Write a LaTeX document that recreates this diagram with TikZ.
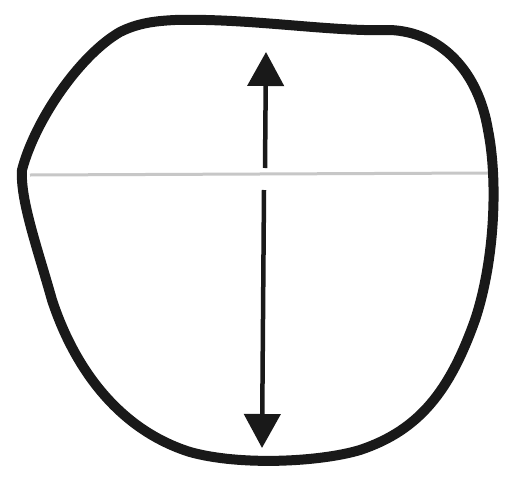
\documentclass[tikz,border=0pt]{standalone}
\usetikzlibrary{arrows.meta}
\begin{document}
\begin{tikzpicture}[x=1pt,y=-1pt,
  outline/.style={line width=10pt,line join=round,black!90},
  midline/.style={line width=3pt,black!22},
  dimarrow/.style={line width=4.5pt,black!90,-{Triangle[length=34pt,width=36pt]}}]
\useasboundingbox (0,0) rectangle (520,485);
\fill[white] (0,0) rectangle (520,485);
\draw[midline] (30,175) -- (488,173);
\draw[outline] (175,20) .. controls (250,18) and (330,32) .. (390,30)
  .. controls (440,32) and (478,70) .. (488,130)
  .. controls (498,180) and (495,260) .. (475,320)
  .. controls (450,390) and (420,430) .. (360,450)
  .. controls (320,462) and (240,466) .. (190,452)
  .. controls (120,430) and (75,370) .. (52,300)
  .. controls (38,250) and (20,200) .. (22,170)
  .. controls (35,120) and (80,55) .. (120,32)
  .. controls (138,23) and (155,21) .. (175,20);
\coordinate (top) at (266,52);
\coordinate (bot) at (262,448);
\draw[dimarrow] (265,168) -- (top);
\draw[dimarrow] (264,190) -- (bot);
\end{tikzpicture}
\end{document}
